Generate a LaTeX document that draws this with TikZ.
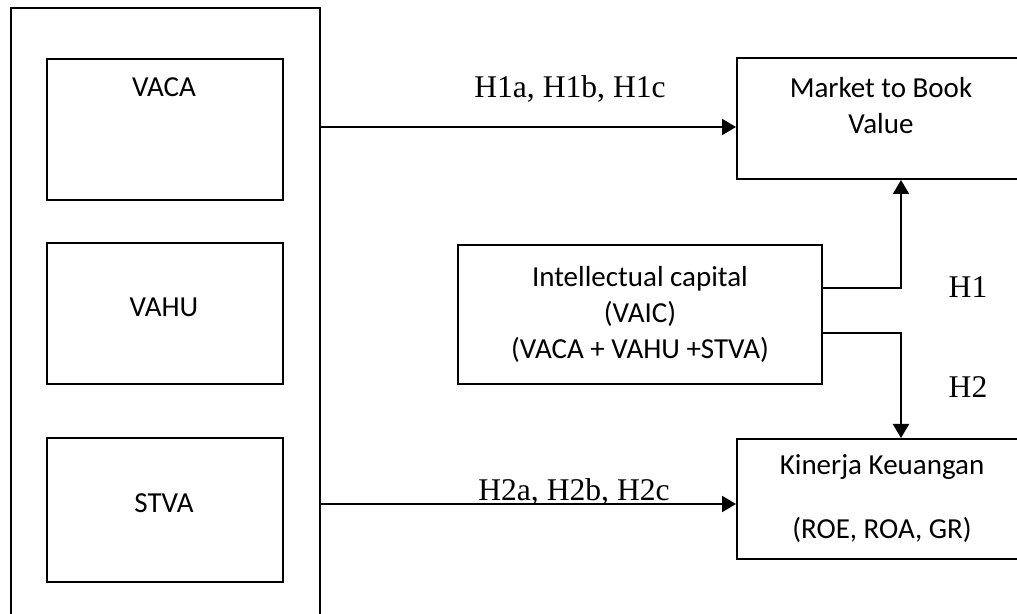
\documentclass[tikz,border=0pt]{standalone}
\usepackage{fontspec}
\setmainfont{Carlito}
\newfontfamily\tnr{Liberation Serif}
\usetikzlibrary{arrows.meta}

\begin{document}
\begin{tikzpicture}[x=0.5pt, y=-0.5pt,
  every node/.style={font=\fontsize{14.5pt}{18pt}\selectfont, align=center},
  box/.style={draw, line width=1pt, anchor=north west, inner sep=0pt},
  conn/.style={line width=1pt, -{Triangle[length=7pt,width=8pt]}},
  hyp/.style={font=\tnr\fontsize{15.8pt}{18pt}\selectfont, anchor=base}]
\useasboundingbox (0,0) rectangle (1017,614);
% left group
\node[box, minimum width=154.5pt, minimum height=310pt] (grp) at (10,7) {};
\node[box, minimum width=118pt, minimum height=70.5pt] (vaca) at (46,58) {};
\node[box, minimum width=118pt, minimum height=70.5pt] (vahu) at (46,242) {};
\node[box, minimum width=118pt, minimum height=71.5pt] (stva) at (46,437.5) {};
\node[anchor=base] (vacatxt) at (164,97) {VACA};
\node[anchor=base] (vahutxt) at (164,317) {VAHU};
\node[anchor=base] (stvatxt) at (164,512) {STVA};
% right side
\node[box, minimum width=145pt, minimum height=60.25pt] (mbv) at (736,57.5) {};
\node (mbvtxt) at (881,106) {Market to Book\\Value};
\node[box, minimum width=182pt, minimum height=69.5pt] (ic) at (457,244) {Intellectual capital\\(VAIC)\\(VACA + VAHU +STVA)};
\node[box, minimum width=145pt, minimum height=60pt] (kk) at (736,438) {Kinerja Keuangan\\[14pt](ROE, ROA, GR)};
% connectors
\coordinate (ya) at (0,127);
\coordinate (yb) at (0,504);
\coordinate (yup) at (0,288);
\coordinate (ydn) at (0,333);
\coordinate (col) at (901,0);
\draw[conn] (grp.east |- ya) -- (mbv.west |- ya);
\draw[conn] (grp.east |- yb) -- (kk.west |- yb);
\draw[conn] (ic.east |- yup) -| (col |- mbv.south);
\draw[conn] (ic.east |- ydn) -| (col |- kk.north);
% hypotheses
\node[hyp] (h1abc) at (570,98) {H1a, H1b, H1c};
\node[hyp] (h2abc) at (574,500) {H2a, H2b, H2c};
\node[hyp] (h1) at (968,298) {H1};
\node[hyp] (h2) at (968,398) {H2};
\end{tikzpicture}
\end{document}
